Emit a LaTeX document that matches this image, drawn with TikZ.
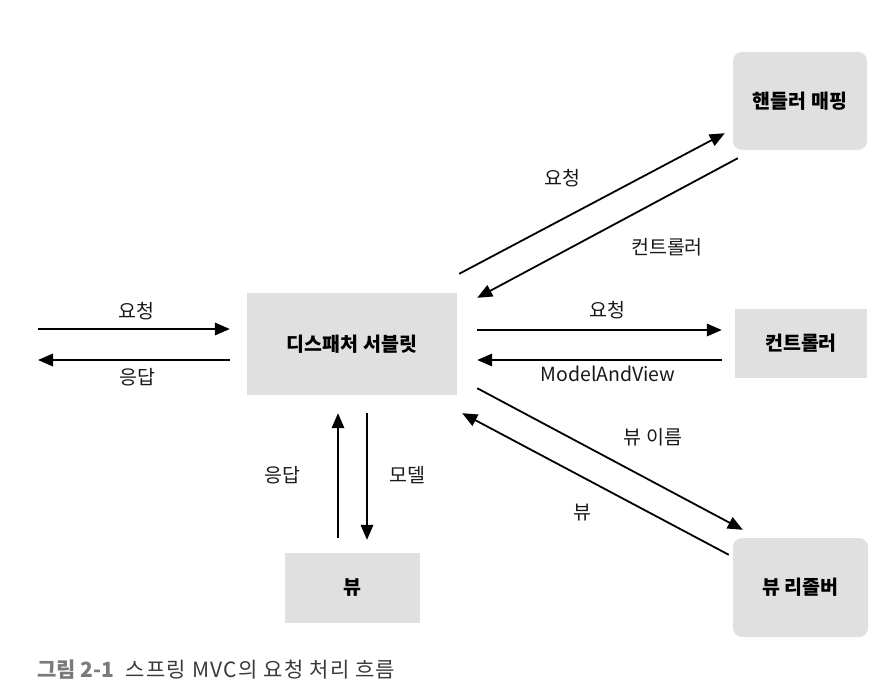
\documentclass[tikz,border=0pt]{standalone}
\usepackage{fontspec}
\setmainfont{Noto Sans CJK KR}
\usetikzlibrary{calc,arrows.meta}
\definecolor{boxgray}{HTML}{E0E0E0}
\definecolor{capgray}{HTML}{7A7A7A}
\definecolor{captext}{HTML}{3A3A3A}

\begin{document}
\begin{tikzpicture}[x=1pt, y=-1pt,
		box/.style={fill=boxgray, draw=none, minimum width=#1, inner sep=0pt, font=\fontsize{19.5}{23}\selectfont\bfseries},
		rbox/.style={box=#1, rounded corners=9pt},
		flow/.style={line width=1.8pt, -{Triangle[length=15pt, width=12.5pt]}},
		lbl/.style={font=\fontsize{19.5}{23}\selectfont, text=black!90}]
			%%%%% START %%%%%
			
			\useasboundingbox (0, 0) rectangle (870, 693);
			
			\node[box=210pt, minimum height=102pt] (disp) at (352, 344) {디스패처 서블릿};
			\node[rbox=134pt, minimum height=98pt] (hm) at (800, 101) {핸들러 매핑};
			\node[box=132pt, minimum height=69pt] (ctrl) at (801, 343.5) {컨트롤러};
			\node[rbox=135pt, minimum height=99pt] (vr) at (800.5, 587.5) {뷰 리졸버};
			\node[box=135pt, minimum height=70pt] (view) at (352.5, 588) {뷰};
			
			\coordinate (inReq) at (38, 329);
			\coordinate (outRes) at (38, 360);
			\draw[flow, shorten >=17pt] (inReq) -- (inReq -| disp.west);
			\draw[flow, shorten <=17pt] (outRes -| disp.west) -- (outRes);
			
			\draw[flow] ([shift={(2pt,19pt)}]disp.north east) -- ([shift={(-8pt,17pt)}]hm.south west);
			\draw[flow] ([shift={(5pt,-8pt)}]hm.south west) -- ([shift={(20pt,-5pt)}]disp.north east);
			
			\draw[flow, shorten <=20pt, shorten >=13pt] ([yshift=14pt]disp.east) -- ([yshift=14pt]disp.east -| ctrl.west);
			\draw[flow, shorten <=13pt, shorten >=20pt] ([yshift=-16pt]disp.east -| ctrl.west) -- ([yshift=-16pt]disp.east);
			
			\draw[flow] ([shift={(20pt,7pt)}]disp.south east) -- ([shift={(10pt,8pt)}]vr.north west);
			\draw[flow] ([shift={(-4pt,-17pt)}]vr.north west) -- ([shift={(5pt,-18pt)}]disp.south east);
			
			\draw[flow, shorten <=15pt, shorten >=18pt] ([xshift=-14.5pt]view.north) -- ([xshift=-14.5pt]view.north |- disp.south);
			\draw[flow, shorten <=18pt, shorten >=13pt] ([xshift=14.5pt]view.north |- disp.south) -- ([xshift=14.5pt]view.north);
			
			\node[lbl] (lReqL) at (136.5, 311) {요청};
			\node[lbl] (lResL) at (137.5, 377) {응답};
			\node[lbl] (lReqH) at (562, 178) {요청};
			\node[lbl] (lCtrlH) at (667, 247) {컨트롤러};
			\node[lbl] (lReqC) at (607, 310) {요청};
			\node[lbl] (lMav) at (608, 374) {ModelAndView};
			\node[lbl] (lName) at (653, 437) {뷰 이름};
			\node[lbl] (lView) at (582, 513) {뷰};
			\node[lbl] (lResV) at (282, 475) {응답};
			\node[lbl] (lModel) at (407, 475) {모델};
			
			\node[anchor=base west, inner sep=0pt, font=\fontsize{21}{25}\selectfont] (cap) at (37, 677)
				{\textcolor{capgray}{\bfseries 그림 2-1}\hspace{0.55em}\textcolor{captext}{\addfontfeature{LetterSpace=6}스프링 MVC의 요청 처리 흐름}};
			
			%%%%% END %%%%%
\end{tikzpicture}
\end{document}
